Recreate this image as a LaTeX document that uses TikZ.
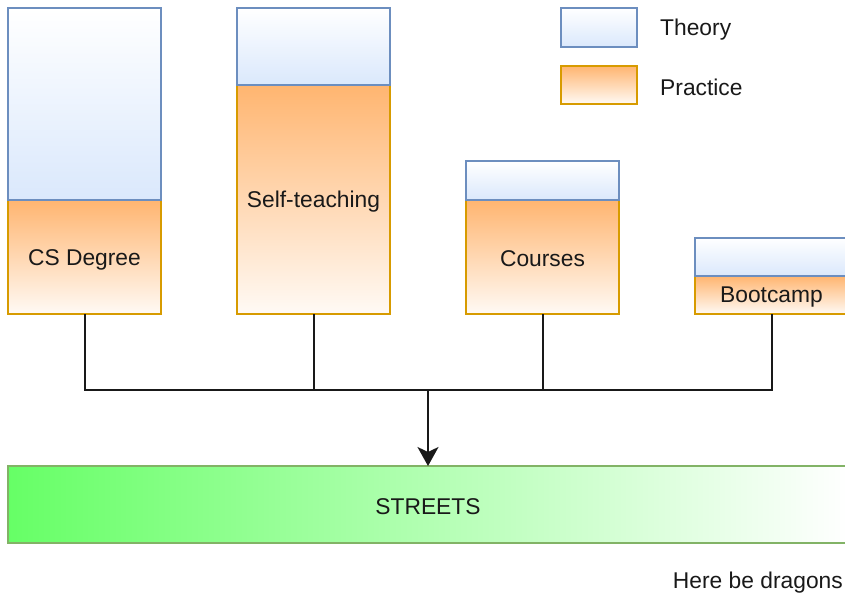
\documentclass[tikz,border=0pt]{standalone}
\usepackage{fontspec}
\setmainfont{Liberation Sans}
\usetikzlibrary{arrows.meta}
\definecolor{theoryline}{HTML}{6C8EBF}
\definecolor{theoryfill}{HTML}{DAE8FC}
\definecolor{practiceline}{HTML}{D79B00}
\definecolor{practicefill}{HTML}{FFB570}
\definecolor{practicelow}{HTML}{FFFAF5}
\definecolor{streetline}{HTML}{82B366}
\definecolor{streetfill}{HTML}{66FF66}
\begin{document}
\begin{tikzpicture}[x=1pt,y=-1pt,
  lbl/.style={font=\fontsize{22.8}{26}\selectfont, text=black!90},
  block/.style={rectangle, inner sep=0pt, outer sep=0pt, anchor=north west,
    line width=1.3pt, minimum width=153pt, lbl},
  theory/.style={block, draw=theoryline, top color=white, bottom color=theoryfill},
  practice/.style={block, draw=practiceline, top color=practicefill, bottom color=practicelow},
  streets/.style={rectangle, inner sep=0pt, outer sep=0pt, anchor=north west,
    line width=1.3pt, draw=streetline, left color=streetfill, right color=white,
    minimum width=840pt, minimum height=77pt, lbl},
  free/.style={lbl, inner sep=0pt},
  link/.style={line width=2pt, black!90},
  arr/.style={link, -{Stealth[length=19pt,width=21pt,inset=5pt]}}]
\useasboundingbox (0,0) rectangle (845,594);

% CS Degree
\node[practice, minimum height=114pt] (csp) at (8,200) {};
\node[theory, minimum height=192pt] (cst) at (8,8) {};
\node[free] (csl) at ([yshift=-3pt]csp.center) {CS Degree};
% Self-teaching
\node[practice, minimum height=229pt] (stp) at (237,85) {};
\node[theory, minimum height=77pt] (stt) at (237,8) {};
\node[free] (stl) at ([yshift=-2pt]stp.center) {Self-teaching};
% Courses
\node[practice, minimum height=114pt] (cop) at (466,200) {};
\node[theory, minimum height=39pt] (cot) at (466,161) {};
\node[free] (col) at ([yshift=-2pt]cop.center) {Courses};
% Bootcamp
\node[practice, minimum height=38pt] (bcp) at (695,276) {};
\node[theory, minimum height=38pt] (bct) at (695,238) {};
\node[free] (bcl) at ([yshift=-2pt]bcp.center) {Bootcamp};

% Legend
\node[theory, minimum width=76pt, minimum height=39pt] (lgt) at (561,8) {};
\node[practice, minimum width=76pt, minimum height=38pt] (lgp) at (561,66) {};
\node[free, anchor=west] (lgtt) at (660,30) {Theory};
\node[free, anchor=west] (lgpt) at (660,87) {Practice};

% Streets
\node[streets] (st) at (8,466) {};
\node[free] (stt2) at ([yshift=-2pt]st.center) {STREETS};
\node[free, anchor=east] (dragons) at (843,583) {Here be dragons};

% Connectors
\coordinate (hub) at (428,390);
\draw[link] (csp.south) |- (hub);
\draw[link] (stp.south) |- (hub);
\draw[link] (cop.south) |- (hub);
\draw[link] (bcp.south) |- (hub);
\draw[arr] (hub) -- (st.north);
\end{tikzpicture}
\end{document}
